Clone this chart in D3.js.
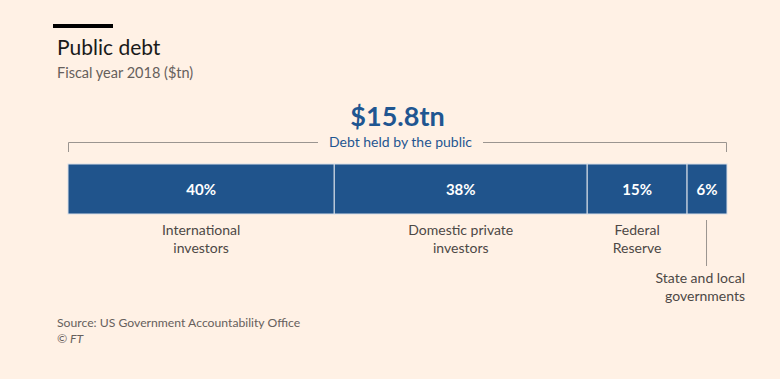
<!DOCTYPE html>
<html><head><meta charset="utf-8">
<script src="https://cdn.jsdelivr.net/npm/d3@7"></script>
<style>
html,body{margin:0;padding:0;background:#fff1e5;}
svg{display:block;font-family:Lato,"Open Sans",sans-serif;}
</style></head>
<body>
<svg id="c" width="780" height="379"></svg>
<script>
const categories = ["International investors","Domestic private investors","Federal Reserve","State and local governments"];
const labelLines = [["International","investors"],["Domestic private","investors"],["Federal","Reserve"],["State and local","governments"]];
const shares = [40,38,15,6];
const shareLabels = ["40%","38%","15%","6%"];
const totalLabel = "$15.8tn";

const svg = d3.select("#c");
svg.append("rect").attr("width",780).attr("height",379).attr("fill","#fff1e5");

// header
svg.append("rect").attr("x",53).attr("y",24).attr("width",60).attr("height",4).attr("fill","#000");
svg.append("text").attr("x",57).attr("y",55).attr("font-size",21).attr("fill","#1a1a1a").text("Public debt");
svg.append("text").attr("x",57).attr("y",78).attr("font-size",14.5).attr("fill","#66605c").text("Fiscal year 2018 ($tn)");

const x = d3.scaleLinear().domain([0,d3.sum(shares)]).range([68,727]);
const starts = [];
let acc=0; shares.forEach(s=>{starts.push(acc); acc+=s;});
const barY=164, barH=50;

// total label
const mid=(x.range()[0]+x.range()[1])/2;
svg.append("text").attr("x",mid).attr("y",126).attr("text-anchor","middle").attr("font-size",27).attr("font-weight",700).attr("fill","#1f5691").text(totalLabel);

// bracket
const bc="#9b9590";
const by=142;
svg.append("path").attr("d",`M${x(0)+0.5},152V${by+0.5}H318`).attr("fill","none").attr("stroke",bc);
svg.append("path").attr("d",`M483,${by+0.5}H${x(99)-0.5}V152`).attr("fill","none").attr("stroke",bc);
svg.append("text").attr("x",mid+3).attr("y",by+5).attr("text-anchor","middle").attr("font-size",14).attr("fill","#1f5691").text("Debt held by the public");

// bars
const g=svg.append("g");
g.selectAll("rect").data(shares).join("rect")
  .attr("x",(d,i)=>x(starts[i])).attr("y",barY)
  .attr("width",d=>x(d)-x(0)).attr("height",barH)
  .attr("fill","#20548c").attr("stroke","#d9dfe8").attr("stroke-width",1);
g.selectAll("text").data(shares).join("text")
  .attr("x",(d,i)=>x(starts[i]+d/2)).attr("y",barY+barH/2+5.5)
  .attr("text-anchor","middle").attr("font-size",15).attr("font-weight",700).attr("fill","#fff")
  .text((d,i)=>shareLabels[i]);

// category labels
const lc="#4d4845";
labelLines.forEach((lines,i)=>{
  if(i<3){
    const t=svg.append("text").attr("x",x(starts[i]+shares[i]/2)).attr("y",235).attr("text-anchor","middle").attr("font-size",14).attr("fill",lc);
    lines.forEach((l,j)=>t.append("tspan").attr("x",x(starts[i]+shares[i]/2)).attr("dy",j?18:0).text(l));
  } else {
    const cx=x(starts[i]+shares[i]/2)-0.5;
    svg.append("line").attr("x1",cx).attr("x2",cx).attr("y1",220).attr("y2",266).attr("stroke","#9b9590");
    const t=svg.append("text").attr("x",745).attr("y",283).attr("text-anchor","end").attr("font-size",14).attr("fill",lc);
    lines.forEach((l,j)=>t.append("tspan").attr("x",745).attr("dy",j?18:0).text(l));
  }
});

// source
svg.append("text").attr("x",57).attr("y",327).attr("font-size",12.2).attr("fill","#66605c").text("Source: US Government Accountability Office");
svg.append("text").attr("x",57).attr("y",343).attr("font-size",12.2).attr("fill","#66605c").attr("font-style","italic").text("© FT");
</script>
</body></html>
